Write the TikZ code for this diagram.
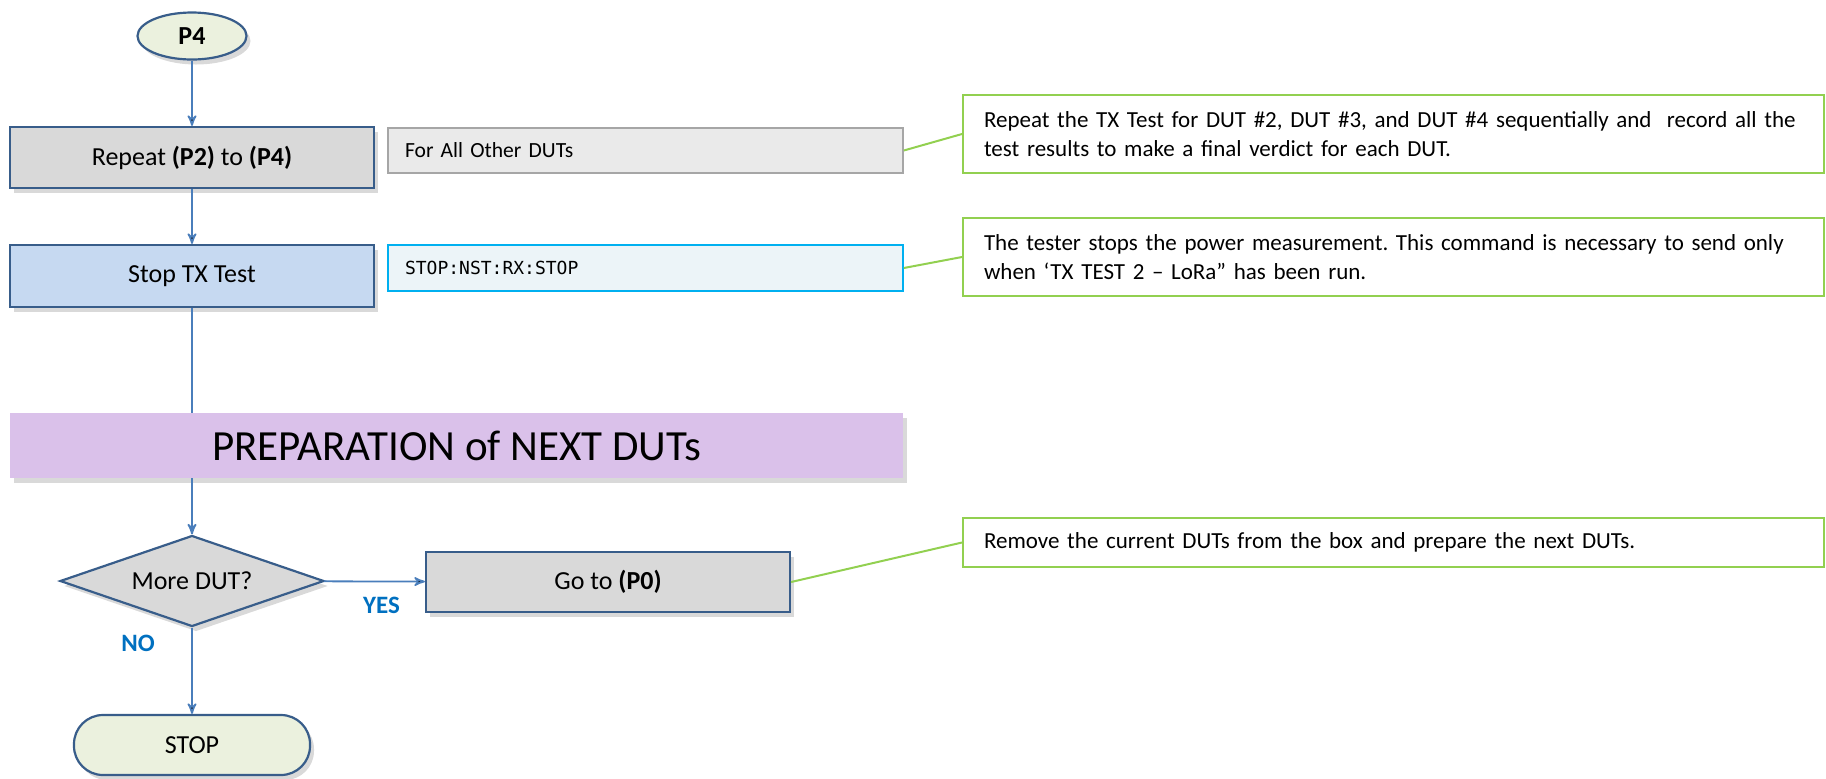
\documentclass[tikz,border=0pt]{standalone}
\usepackage{fontspec}
\setmainfont{Carlito}
\newfontfamily\cmdfont{DejaVu Sans Mono}
\usepackage{tikz}
\usetikzlibrary{arrows,shapes,shadows}
\usepackage{xcolor}

\definecolor{frameblue}{RGB}{56,93,138}
\definecolor{edgeblue}{RGB}{74,126,187}
\definecolor{boxgray}{RGB}{217,217,217}
\definecolor{stopblue}{RGB}{198,217,241}
\definecolor{termgreen}{RGB}{235,241,222}
\definecolor{preppurple}{RGB}{218,193,234}
\definecolor{sidegray}{RGB}{166,166,166}
\definecolor{sidefill}{RGB}{234,234,234}
\definecolor{cmdcyan}{RGB}{0,176,240}
\definecolor{cmdfill}{RGB}{236,244,248}
\definecolor{notegreen}{RGB}{146,208,80}
\definecolor{answerblue}{RGB}{0,112,192}

\begin{document}
\frenchspacing
\begin{tikzpicture}[x=0.5pt,y=-0.5pt,>=stealth',
  every node/.style={inner sep=0pt},
  shade/.style={drop shadow={shadow xshift=2pt,shadow yshift=-2.5pt,opacity=0.3}},
  term/.style={shade,draw=frameblue,fill=termgreen,line width=1.1pt,font=\fontsize{13}{15}\selectfont},
  proc/.style={shade,rectangle,draw=frameblue,line width=1.1pt,minimum width=182pt,minimum height=30.5pt,font=\fontsize{13}{15}\selectfont},
  side/.style={rectangle,line width=0.8pt,minimum height=22.5pt,inner xsep=8.5pt,text width=240.5pt,align=left},
  note/.style={rectangle,draw=notegreen,line width=1pt,inner xsep=10.5pt,text width=409.5pt,align=left,font=\fontsize{11.5}{14.5}\selectfont},
  wire/.style={draw=edgeblue,line width=0.9pt},
  link/.style={draw=notegreen,line width=1pt},
  answer/.style={text=answerblue,font=\bfseries\fontsize{12.5}{14}\selectfont}]
  \useasboundingbox (0,0) rectangle (1826,778);

  % main flow
  \node[term,ellipse,minimum width=54.5pt,minimum height=23.5pt,font=\bfseries\fontsize{13}{15}\selectfont] (p4) at (192,36) {P4};
  \node[proc,fill=boxgray] (rep) at (192,157.5) {Repeat \textbf{(P2)} to \textbf{(P4)}};
  \node[proc,fill=stopblue,minimum height=31pt] (stoptx) at (192,276) {Stop TX Test};
  \node[shade,rectangle,fill=preppurple,minimum width=446.5pt,minimum height=32.5pt,font=\fontsize{21.5}{24}\selectfont] (prep) at (456.5,445.5) {PREPARATION of NEXT DUTs};
  \node[proc,diamond,aspect=2.9,fill=boxgray,minimum width=132pt,minimum height=45.5pt] (more) at (192,581) {More DUT?};
  \node[proc,fill=boxgray,minimum height=30pt] (goto) at (608,582) {Go to \textbf{(P0)}};
  \node[term,rectangle,rounded corners=14.5pt,minimum width=118pt,minimum height=30pt] (stop) at (192,745) {STOP};

  % side boxes
  \node[side,draw=sidegray,fill=sidefill,font=\fontsize{10.8}{12}\selectfont] (others) at (645.5,150.5) {For All Other DUTs};
  \node[side,draw=cmdcyan,fill=cmdfill,minimum height=23pt,font=\cmdfont\fontsize{9}{10}\selectfont] (cmd) at (645.5,268) {STOP:NST:RX:STOP};

  % notes
  \node[note,minimum height=39pt] (n1) at (1393.5,134) {Repeat the TX Test for DUT \#2, DUT \#3, and DUT \#4 sequentially and\ \ record all the\\test results to make a final verdict for each DUT.};
  \node[note,minimum height=39pt] (n2) at (1393.5,257) {The tester stops the power measurement. This command is necessary to send only\\when ‘TX TEST 2 – LoRa” has been run.};
  \node[note,minimum height=24.5pt] (n3) at (1393.5,542.5) {Remove the current DUTs from the box and prepare the next DUTs.};

  \path[wire,->] (p4) edge (rep)
        (rep) edge (stoptx)
        (more) edge node[answer,pos=0.57,yshift=-12pt] {YES} (goto)
        (more) edge node[answer,pos=0.18,xshift=-27pt] {NO} (stop);
  \draw[wire] (stoptx) -- (stoptx.south |- prep.north);
  \draw[wire,->] (more.north |- prep.south) -- (more);

  \path[link] (others.east) edge (n1.west)
        (cmd.east) edge (n2.west)
        (goto.east) edge (n3.west);
\end{tikzpicture}
\end{document}
